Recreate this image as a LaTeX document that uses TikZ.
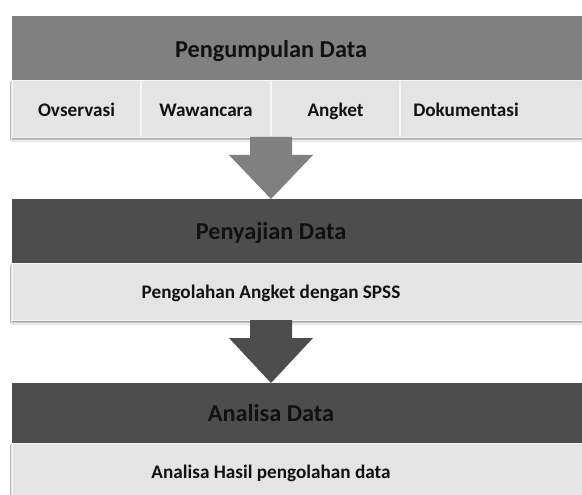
\documentclass[tikz,border=0pt]{standalone}
\usepackage{fontspec}
\setmainfont{Carlito}
\usetikzlibrary{shadows.blur,calc}
\definecolor{hdrgray}{HTML}{808080}
\definecolor{hdrdark}{HTML}{4D4D4D}
\definecolor{rowlight}{HTML}{E4E4E4}
\definecolor{txt}{HTML}{111111}
\tikzset{
  boxbase/.style={anchor=north west, inner sep=0pt, outer sep=0pt, draw=none},
  hdrA/.style={boxbase, fill=hdrgray},
  hdrB/.style={boxbase, fill=hdrdark},
  rowbox/.style={boxbase, fill=rowlight, draw=white!96!black, line width=0.8pt,
    blur shadow={shadow xshift=0pt, shadow yshift=-2.5pt, shadow blur steps=5, shadow blur radius=1.5pt, shadow opacity=40}},
  hdrtext/.style={font=\fontsize{24.3}{27}\selectfont\bfseries, text=txt, inner sep=0pt, anchor=base},
  rowtext/.style={font=\fontsize{19.2}{22}\selectfont\bfseries, text=txt, inner sep=0pt, anchor=base},
  divider/.style={draw=white!97!black, line width=1.2pt},
  arrA/.style={fill=hdrgray, draw=none},
  arrB/.style={fill=hdrdark, draw=none},
}
\begin{document}
\begin{tikzpicture}[x=1pt,y=-1pt]
\useasboundingbox (0,0) rectangle (582,495);
\clip (0,0) rectangle (582,495);
\fill[white] (0,0) rectangle (582,495);

% ---- block 1
\node[rowbox, minimum width=600pt, minimum height=57pt] (r1box) at (12,80) {};
\node[hdrA, minimum width=600pt, minimum height=64pt] (h1box) at (12,16) {};
\node[hdrtext] (h1) at (271,57.3) {Pengumpulan Data};
\coordinate (d1t) at (141,81); \coordinate (d1b) at (141,136);
\coordinate (d2t) at (271,81); \coordinate (d2b) at (271,136);
\coordinate (d3t) at (400,81); \coordinate (d3b) at (400,136);
\draw[divider] (d1t) -- (d1b);
\draw[divider] (d2t) -- (d2b);
\draw[divider] (d3t) -- (d3b);
\node[rowtext] (c1) at (76.5,116.5) {Ovservasi};
\node[rowtext] (c2) at (206,116.5) {Wawancara};
\node[rowtext] (c3) at (335.5,116.5) {Angket};
\node[rowtext] (c4) at (466,116.5) {Dokumentasi};

% ---- block 2
\node[rowbox, minimum width=600pt, minimum height=57pt] (r2box) at (12,263) {};
\node[hdrB, minimum width=600pt, minimum height=64pt] (h2box) at (12,199) {};
\node[hdrtext] (h2) at (271,240) {Penyajian Data};
\node[rowtext] (p2) at (271,298) {Pengolahan Angket dengan SPSS};

% ---- block 3
\node[rowbox, minimum width=600pt, minimum height=80pt] (r3box) at (12,443) {};
\node[hdrB, minimum width=600pt, minimum height=60pt] (h3box) at (12,383) {};
\node[hdrtext] (h3) at (271,421.5) {Analisa Data};
\node[rowtext] (p3) at (271,478) {Analisa Hasil pengolahan data};

% ---- arrows
\coordinate (a1s) at (r1box.south -| h1);
\coordinate (a1t) at (h2box.north -| h1);
\fill[arrA] ($(a1s)+(-21,0)$) -- ($(a1s)+(21,0)$) -- ($(a1s)+(21,18)$) -- ($(a1s)+(42,18)$)
  -- (a1t) -- ($(a1s)+(-42,18)$) -- ($(a1s)+(-21,18)$) -- cycle;
\coordinate (a2s) at (r2box.south -| h2);
\coordinate (a2t) at (h3box.north -| h2);
\fill[arrB] ($(a2s)+(-21,0)$) -- ($(a2s)+(21,0)$) -- ($(a2s)+(21,18)$) -- ($(a2s)+(42,18)$)
  -- (a2t) -- ($(a2s)+(-42,18)$) -- ($(a2s)+(-21,18)$) -- cycle;
\end{tikzpicture}
\end{document}
